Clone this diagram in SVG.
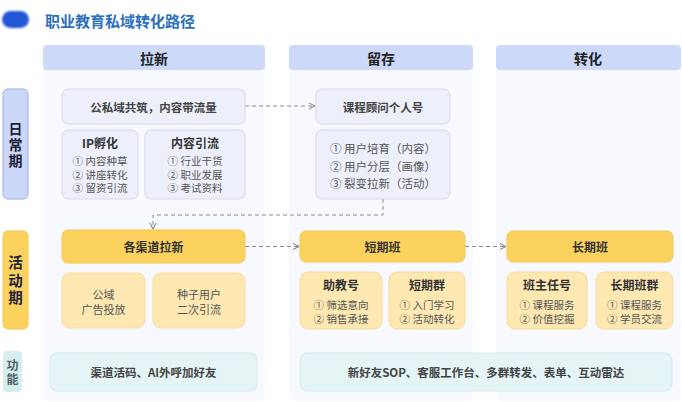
<svg xmlns="http://www.w3.org/2000/svg" width="682" height="402" viewBox="0 0 682 402">
<defs>
<style>
text{font-family:"Noto Sans CJK SC","Noto Sans",sans-serif;text-anchor:middle;dominant-baseline:central}
.col{fill:#f7f9fe}
.hdr{fill:#cdd9f8}
.ht{font-size:14px;font-weight:700;fill:#222}
.blue{fill:#edf0fb;stroke:#d3d9ef;stroke-width:1}
.ylw{fill:#fcd25e;stroke:#f3c650;stroke-width:1}
.ylw2{fill:#fde8b2;stroke:#f8dc9c;stroke-width:1}
.fn{fill:#e5f4f5;stroke:#d3eaec;stroke-width:1}
.t1{font-size:11.5px;font-weight:700;fill:#444}
.t2{font-size:12px;font-weight:700;fill:#333}
.li{font-size:10.5px;fill:#555}
.li2{font-size:11.5px;fill:#555}
.li3{font-size:11px;fill:#555}
.vl{writing-mode:vertical-rl;font-weight:700}
.conn{fill:none;stroke:#8a8a8a;stroke-width:1;stroke-dasharray:4 3}
</style>
<marker id="ah" viewBox="0 0 8 8" refX="7" refY="4" markerWidth="8" markerHeight="8" markerUnits="userSpaceOnUse" orient="auto">
<path d="M1,1 L7,4 L1,7" fill="none" stroke="#777" stroke-width="1"/>
</marker>
<filter id="blur" x="-20%" y="-20%" width="140%" height="140%"><feGaussianBlur stdDeviation="0.8"/></filter>
</defs>
<rect width="682" height="402" fill="#ffffff"/>
<g id="title">
<rect x="2" y="11" width="27" height="17" rx="8.5" fill="#2456d6" filter="url(#blur)"/>
<text x="120" y="20" style="font-size:15px;font-weight:700;fill:#2a70bf">职业教育私域转化路径</text>
</g>
<g id="columns">
<rect class="col" x="43" y="45" width="222" height="356" rx="6"/>
<rect class="col" x="289" y="45" width="184" height="356" rx="6"/>
<rect class="col" x="496" y="45" width="185" height="356" rx="6"/>
<rect class="hdr" x="43" y="45" width="222" height="25" rx="4"/>
<rect class="hdr" x="289" y="45" width="184" height="25" rx="4"/>
<rect class="hdr" x="496" y="45" width="185" height="25" rx="4"/>
<text class="ht" x="154" y="57.5">拉新</text>
<text class="ht" x="381" y="57.5">留存</text>
<text class="ht" x="588" y="57.5">转化</text>
</g>
<g id="row-labels">
<rect x="3" y="89" width="25" height="110" rx="5" fill="#cbd7f8" stroke="#9eafdc" stroke-width="1"/>
<text class="vl" x="15.5" y="145.5" style="font-size:14px;letter-spacing:2px;fill:#1b2236">日常期</text>
<rect x="3" y="231" width="25" height="98" rx="5" fill="#fcd25e" stroke="#f3c650" stroke-width="1"/>
<text class="vl" x="15.5" y="281.5" style="font-size:14.5px;letter-spacing:3px;fill:#1b2236">活动期</text>
<rect x="3" y="351" width="19" height="41" rx="4" fill="#d6eeee"/>
<text class="vl" x="12.5" y="373" style="font-size:12px;letter-spacing:2px;fill:#4d5e66">功能</text>
</g>
<g id="connectors">
<path class="conn" d="M245,106 H315" marker-end="url(#ah)"/>
<path class="conn" d="M383,199 V215 H153 V229" marker-end="url(#ah)"/>
<path class="conn" d="M245,246.5 H299" marker-end="url(#ah)"/>
<path class="conn" d="M465,246.5 H506" marker-end="url(#ah)"/>
</g>
<g id="n-gongsiyu">
<rect class="blue" x="62" y="89" width="183" height="35" rx="6"/>
<text class="t1" x="153.5" y="106.5">公私域共筑，内容带流量</text>
</g>
<g id="n-ip">
<rect class="blue" x="62" y="130" width="76" height="69" rx="6"/>
<text class="t2" x="100" y="142">IP孵化</text>
<text class="li" x="100" y="160">① 内容种草<tspan x="100" dy="13.5">② 讲座转化</tspan><tspan x="100" dy="13.5">③ 留资引流</tspan></text>
</g>
<g id="n-neirong">
<rect class="blue" x="145" y="130" width="100" height="69" rx="6"/>
<text class="t2" x="195" y="142">内容引流</text>
<text class="li" x="195" y="160">① 行业干货<tspan x="195" dy="13.5">② 职业发展</tspan><tspan x="195" dy="13.5">③ 考试资料</tspan></text>
</g>
<g id="n-guwen">
<rect class="blue" x="316" y="89" width="134" height="35" rx="6"/>
<text class="t1" x="383" y="106.5">课程顾问个人号</text>
</g>
<g id="n-liucun-list">
<rect class="blue" x="316" y="130" width="134" height="69" rx="6"/>
<text class="li2" x="383" y="148">① 用户培育（内容）<tspan x="383" dy="17.5">② 用户分层（画像）</tspan><tspan x="383" dy="17.5">③ 裂变拉新（活动）</tspan></text>
</g>
<g id="n-qudao">
<rect class="ylw" x="62" y="230" width="183" height="33" rx="6"/>
<text class="t2" x="153.5" y="246.5">各渠道拉新</text>
</g>
<g id="n-gongyu">
<rect class="ylw2" x="62" y="273" width="83" height="55" rx="8"/>
<text class="li3" x="103.5" y="294">公域<tspan x="103.5" dy="14.5">广告投放</tspan></text>
</g>
<g id="n-zhongzi">
<rect class="ylw2" x="153" y="273" width="92" height="55" rx="8"/>
<text class="li3" x="199" y="294">种子用户<tspan x="199" dy="14.5">二次引流</tspan></text>
</g>
<g id="n-duanqiban">
<rect class="ylw" x="300" y="231" width="165" height="31" rx="6"/>
<text class="t2" x="382.5" y="246.5">短期班</text>
</g>
<g id="n-zhujiao">
<rect class="ylw2" x="300" y="272" width="82" height="57" rx="8"/>
<text class="t2" x="341" y="284">助教号</text>
<text class="li" x="341" y="304">① 筛选意向<tspan x="341" dy="14">② 销售承接</tspan></text>
</g>
<g id="n-duanqiqun">
<rect class="ylw2" x="389" y="272" width="76" height="57" rx="8"/>
<text class="t2" x="427" y="284">短期群</text>
<text class="li" x="427" y="304">① 入门学习<tspan x="427" dy="14">② 活动转化</tspan></text>
</g>
<g id="n-changqiban">
<rect class="ylw" x="507" y="231" width="166" height="31" rx="6"/>
<text class="t2" x="590" y="246.5">长期班</text>
</g>
<g id="n-banzhuren">
<rect class="ylw2" x="507" y="272" width="80" height="57" rx="8"/>
<text class="t2" x="547" y="284">班主任号</text>
<text class="li" x="547" y="304">① 课程服务<tspan x="547" dy="14">② 价值挖掘</tspan></text>
</g>
<g id="n-changqiqun">
<rect class="ylw2" x="596" y="272" width="77" height="57" rx="8"/>
<text class="t2" x="634.5" y="284">长期班群</text>
<text class="li" x="634.5" y="304">① 课程服务<tspan x="634.5" dy="14">② 学员交流</tspan></text>
</g>
<g id="n-fn-left">
<rect class="fn" x="50" y="353" width="207" height="38" rx="7"/>
<text class="t1" x="153.5" y="372">渠道活码、AI外呼加好友</text>
</g>
<g id="n-fn-right">
<rect class="fn" x="300" y="353" width="372" height="38" rx="7"/>
<text class="t1" x="486" y="372">新好友SOP、客服工作台、多群转发、表单、互动雷达</text>
</g>
</svg>
